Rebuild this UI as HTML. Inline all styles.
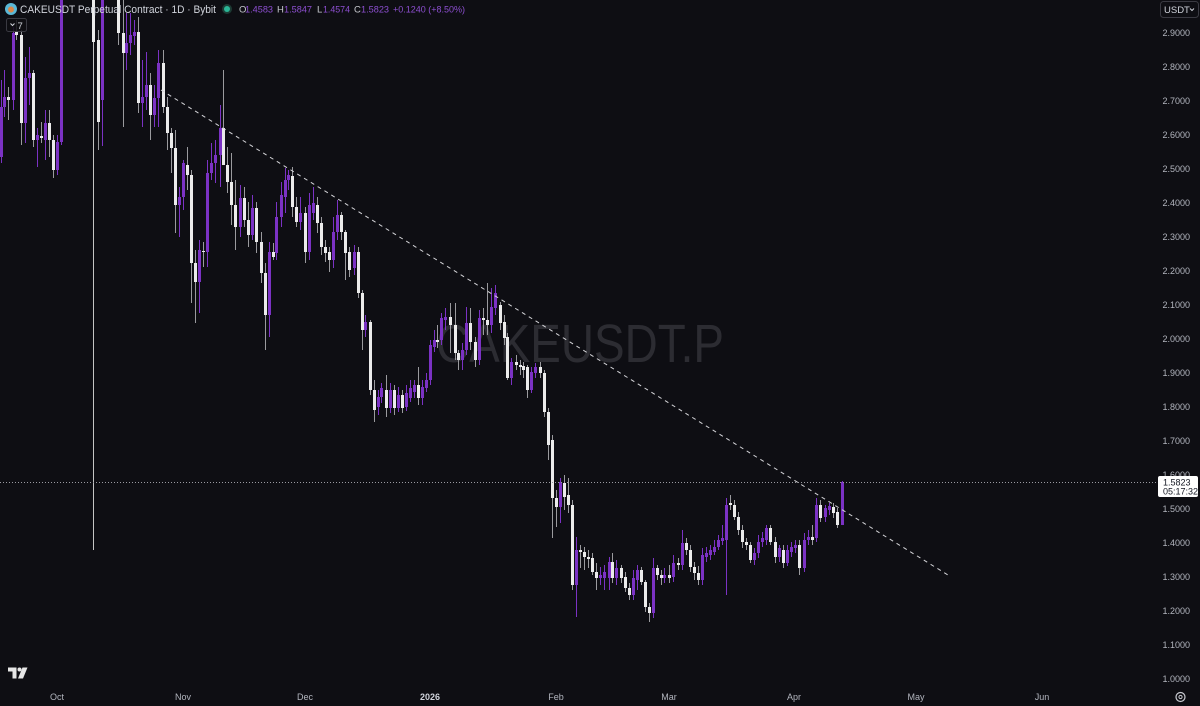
<!DOCTYPE html>
<html>
<head>
<meta charset="utf-8">
<style>
html,body{margin:0;padding:0;background:#0e0e13;width:1200px;height:706px;overflow:hidden;}
svg{display:block;}
text{font-family:"Liberation Sans",sans-serif;}
</style>
</head>
<body>
<svg width="1200" height="706" viewBox="0 0 1200 706" xmlns="http://www.w3.org/2000/svg">
<rect width="1200" height="706" fill="#0e0e13"/>

<!-- watermark -->
<text x="436" y="362" font-size="54" fill="#2c2c32" textLength="288" lengthAdjust="spacingAndGlyphs">CAKEUSDT.P</text>

<!-- Oct 10 long wick -->
<path d="M93.5 -5V550" stroke="#c4c4c4" stroke-width="1"/>

<!-- purple wicks -->
<path stroke="#7b32c4" stroke-width="1" fill="none" d="M1.5 80V163 M4.5 70V117 M13.5 27V110 M25.5 57V143 M29.5 47V105 M37.5 128V167 M45.5 110V160 M57.5 135V175 M61.5 -5V145 M102.5 -5V146 M126.5 13V70 M130.5 13V55 M134.5 20V45 M142.5 60V127 M146.5 52V110 M154.5 85V127 M158.5 50V127 M179.5 187V237 M183.5 160V210 M199.5 240V313 M207.5 160V267 M211.5 143V180 M215.5 140V183 M220.5 105V187 M240.5 185V237 M252.5 195V240 M269.5 242V337 M276.5 202V260 M281.5 182V227 M285.5 168V213 M288.5 170V190 M300.5 197V230 M309.5 193V260 M313.5 187V220 M333.5 217V268 M337.5 200V240 M354.5 245V275 M365.5 315V337 M378.5 390V415 M381.5 383V403 M390.5 383V413 M398.5 387V412 M406.5 385V411 M410.5 380V402 M414.5 380V398 M422.5 380V405 M426.5 373V392 M430.5 340V385 M434.5 330V352 M441.5 313V345 M445.5 308V330 M462.5 343V370 M466.5 307V355 M479.5 310V365 M491.5 288V333 M495.5 285V315 M511.5 358V385 M531.5 367V393 M535.5 363V378 M560.5 478V523 M576.5 537V617 M600.5 567V585 M604.5 565V590 M609.5 557V590 M616.5 560V585 M633.5 570V600 M637.5 565V590 M653.5 558V618 M664.5 568V583 M673.5 555V582 M682.5 530V570 M702.5 548V585 M706.5 547V562 M710.5 545V560 M714.5 540V555 M718.5 535V550 M722.5 525V545 M726.5 498V595 M754.5 548V565 M758.5 535V558 M762.5 532V547 M766.5 525V545 M779.5 545V562 M787.5 545V566 M791.5 542V557 M795.5 540V553 M804.5 533V572 M808.5 530V545 M816.5 498V542 M825.5 505V522 M829.5 503V515 M842.5 481V525"/>

<!-- white wicks -->
<path stroke="#9a9a9e" stroke-width="1" fill="none" d="M8.5 87V120 M16.5 20V40 M21.5 30V145 M33.5 70V147 M41.5 122V143 M49.5 110V157 M53.5 135V178 M98.5 30V150 M118.5 -5V45 M123.5 0V127 M138.5 17V113 M150.5 73V140 M163.5 50V113 M167.5 97V150 M171.5 128V173 M175.5 130V233 M187.5 147V190 M191.5 170V303 M195.5 250V323 M203.5 242V267 M223.5 70V165 M227.5 147V193 M231.5 153V225 M235.5 180V250 M244.5 187V227 M248.5 202V247 M256.5 202V253 M261.5 232V283 M265.5 263V350 M273.5 243V260 M292.5 167V217 M296.5 197V227 M305.5 207V263 M317.5 197V233 M321.5 217V255 M325.5 240V262 M329.5 247V272 M341.5 212V240 M345.5 230V280 M349.5 247V277 M358.5 247V298 M362.5 290V350 M370.5 320V395 M374.5 380V422 M386.5 375V417 M394.5 385V415 M402.5 390V413 M418.5 367V405 M437.5 325V348 M450.5 303V353 M455.5 303V360 M458.5 350V370 M470.5 308V350 M475.5 337V367 M483.5 308V335 M487.5 283V335 M500.5 302V330 M504.5 315V345 M507.5 333V380 M516.5 355V370 M520.5 360V375 M523.5 362V378 M527.5 365V398 M540.5 362V378 M544.5 370V417 M548.5 408V460 M552.5 435V538 M556.5 490V527 M564.5 475V510 M568.5 478V513 M572.5 500V590 M580.5 545V568 M584.5 547V570 M588.5 550V568 M592.5 553V575 M596.5 563V590 M612.5 553V583 M621.5 565V583 M625.5 572V592 M629.5 583V600 M641.5 567V585 M645.5 580V612 M649.5 603V622 M657.5 565V580 M661.5 570V585 M669.5 565V583 M678.5 558V570 M686.5 538V555 M690.5 545V572 M694.5 562V580 M698.5 566V585 M730.5 495V510 M734.5 500V520 M738.5 512V535 M742.5 525V548 M746.5 538V550 M750.5 542V563 M770.5 525V545 M775.5 537V563 M783.5 545V568 M799.5 540V575 M812.5 525V545 M820.5 500V522 M833.5 503V518 M837.5 508V528"/>

<!-- purple bodies -->
<path fill="#7b32c4" d="M0 107h3V157h-3z M3 97h3V107h-3z M12 33h3V100h-3z M24 78h3V123h-3z M28 73h3V78h-3z M36 135h3V140h-3z M44 123h3V140h-3z M56 142h3V170h-3z M60 -5h3V142h-3z M101 -5h3V100h-3z M125 43h3V53h-3z M129 35h3V43h-3z M133 32h3V36h-3z M141 97h3V103h-3z M145 85h3V97h-3z M153 98h3V115h-3z M157 63h3V98h-3z M178 197h3V205h-3z M182 163h3V197h-3z M198 250h3V282h-3z M206 173h3V252h-3z M210 163h3V173h-3z M214 155h3V163h-3z M219 128h3V155h-3z M239 198h3V227h-3z M251 208h3V235h-3z M268 252h3V315h-3z M275 217h3V253h-3z M280 195h3V217h-3z M284 180h3V197h-3z M287 175h3V180h-3z M299 213h3V222h-3z M308 205h3V252h-3z M312 203h3V213h-3z M332 232h3V260h-3z M336 215h3V232h-3z M353 252h3V268h-3z M364 322h3V330h-3z M377 397h3V407h-3z M380 388h3V397h-3z M389 390h3V408h-3z M397 395h3V408h-3z M405 393h3V407h-3z M409 388h3V398h-3z M413 385h3V392h-3z M421 387h3V398h-3z M425 380h3V388h-3z M429 345h3V380h-3z M433 340h3V347h-3z M440 318h3V340h-3z M444 317h3V320h-3z M461 350h3V360h-3z M465 323h3V350h-3z M478 318h3V360h-3z M490 307h3V325h-3z M494 293h3V308h-3z M510 362h3V378h-3z M530 372h3V390h-3z M534 367h3V373h-3z M559 482h3V507h-3z M575 550h3V585h-3z M599 575h3V578h-3z M603 572h3V578h-3z M608 562h3V578h-3z M615 568h3V578h-3z M632 578h3V595h-3z M636 570h3V580h-3z M652 568h3V613h-3z M663 575h3V578h-3z M672 563h3V577h-3z M681 543h3V565h-3z M701 555h3V580h-3z M705 553h3V557h-3z M709 550h3V555h-3z M713 547h3V552h-3z M717 540h3V547h-3z M721 538h3V541h-3z M725 505h3V540h-3z M753 553h3V560h-3z M757 542h3V553h-3z M761 538h3V542h-3z M765 528h3V540h-3z M778 548h3V557h-3z M786 550h3V563h-3z M790 547h3V552h-3z M794 545h3V548h-3z M803 540h3V568h-3z M807 537h3V540h-3z M815 505h3V538h-3z M824 508h3V517h-3z M828 506h3V510h-3z M841 482h3V525h-3z"/>

<!-- white bodies -->
<path fill="#ebebeb" d="M7 97h3V100h-3z M15 32h3V35h-3z M20 35h3V123h-3z M32 73h3V140h-3z M40 136h3V138h-3z M48 123h3V140h-3z M52 140h3V170h-3z M92 -5h3V42h-3z M97 40h3V122h-3z M117 -5h3V33h-3z M122 33h3V53h-3z M137 32h3V103h-3z M149 85h3V115h-3z M162 63h3V107h-3z M166 107h3V133h-3z M170 133h3V148h-3z M174 148h3V205h-3z M186 165h3V175h-3z M190 175h3V263h-3z M194 263h3V282h-3z M202 251h3V252h-3z M222 128h3V165h-3z M226 165h3V182h-3z M230 182h3V205h-3z M234 205h3V227h-3z M243 198h3V220h-3z M247 220h3V235h-3z M255 208h3V242h-3z M260 242h3V273h-3z M264 273h3V315h-3z M272 252h3V257h-3z M291 176h3V207h-3z M295 207h3V222h-3z M304 213h3V252h-3z M316 205h3V223h-3z M320 223h3V247h-3z M324 247h3V253h-3z M328 252h3V260h-3z M340 215h3V232h-3z M344 232h3V253h-3z M348 252h3V270h-3z M357 252h3V293h-3z M361 293h3V330h-3z M369 322h3V390h-3z M373 390h3V410h-3z M385 390h3V408h-3z M393 390h3V408h-3z M401 395h3V408h-3z M417 385h3V398h-3z M436 340h3V342h-3z M449 317h3V325h-3z M454 325h3V353h-3z M457 353h3V360h-3z M469 323h3V342h-3z M474 342h3V360h-3z M482 318h3V320h-3z M486 320h3V325h-3z M499 305h3V323h-3z M503 322h3V338h-3z M506 337h3V378h-3z M515 362h3V365h-3z M519 365h3V367h-3z M522 366h3V370h-3z M526 367h3V390h-3z M539 367h3V373h-3z M543 373h3V412h-3z M547 412h3V445h-3z M551 440h3V498h-3z M555 498h3V507h-3z M563 483h3V497h-3z M567 495h3V505h-3z M571 505h3V585h-3z M579 550h3V552h-3z M583 552h3V557h-3z M587 557h3V559h-3z M591 558h3V572h-3z M595 572h3V578h-3z M611 562h3V578h-3z M620 568h3V578h-3z M624 577h3V588h-3z M628 588h3V595h-3z M640 570h3V582h-3z M644 582h3V607h-3z M648 607h3V613h-3z M656 568h3V575h-3z M660 575h3V578h-3z M668 575h3V578h-3z M677 563h3V565h-3z M685 543h3V550h-3z M689 550h3V567h-3z M693 567h3V573h-3z M697 573h3V580h-3z M729 503h3V505h-3z M733 505h3V517h-3z M737 517h3V530h-3z M741 530h3V542h-3z M745 542h3V545h-3z M749 545h3V560h-3z M769 528h3V542h-3z M774 542h3V557h-3z M782 550h3V563h-3z M798 545h3V568h-3z M811 537h3V540h-3z M819 505h3V518h-3z M832 507h3V513h-3z M836 512h3V525h-3z"/>

<!-- trendline -->
<line x1="161" y1="90" x2="948" y2="575" stroke="#d4d4d8" stroke-width="1" stroke-dasharray="4 4"/>

<!-- current price dotted line -->
<line x1="0" y1="482.5" x2="1158" y2="482.5" stroke="#9b9ba2" stroke-width="1" stroke-dasharray="1 2"/>

<!-- price axis -->
<g font-size="9" fill="#b2b5be" text-anchor="end">
<text x="1190" y="36">2.9000</text>
<text x="1190" y="70">2.8000</text>
<text x="1190" y="104">2.7000</text>
<text x="1190" y="138">2.6000</text>
<text x="1190" y="172">2.5000</text>
<text x="1190" y="206">2.4000</text>
<text x="1190" y="240">2.3000</text>
<text x="1190" y="274">2.2000</text>
<text x="1190" y="308">2.1000</text>
<text x="1190" y="342">2.0000</text>
<text x="1190" y="376">1.9000</text>
<text x="1190" y="410">1.8000</text>
<text x="1190" y="444">1.7000</text>
<text x="1190" y="478">1.6000</text>
<text x="1190" y="512">1.5000</text>
<text x="1190" y="546">1.4000</text>
<text x="1190" y="580">1.3000</text>
<text x="1190" y="614">1.2000</text>
<text x="1190" y="648">1.1000</text>
<text x="1190" y="682">1.0000</text>
</g>

<!-- price box -->
<rect x="1158" y="476" width="40" height="21" rx="2" fill="#ffffff"/>
<text x="1163" y="485.5" font-size="9" fill="#131722">1.5823</text>
<text x="1163" y="494.5" font-size="9" fill="#131722">05:17:32</text>

<!-- USDT button -->
<rect x="1160.5" y="1.5" width="38" height="16" rx="3" fill="none" stroke="#3a3a42"/>
<text x="1164" y="13" font-size="9.5" fill="#d1d4dc">USDT</text>
<path d="M1190 8.5l2 2l2-2" stroke="#d1d4dc" stroke-width="1" fill="none"/>

<!-- time axis -->
<g font-size="9" fill="#b2b5be" text-anchor="middle">
<text x="57" y="700">Oct</text>
<text x="183" y="700">Nov</text>
<text x="305" y="700">Dec</text>
<text x="430" y="700" font-weight="bold" fill="#d1d4dc">2026</text>
<text x="556" y="700">Feb</text>
<text x="669" y="700">Mar</text>
<text x="794" y="700">Apr</text>
<text x="916" y="700">May</text>
<text x="1042" y="700">Jun</text>
</g>

<!-- gear icon -->
<circle cx="1180.5" cy="697" r="4.5" fill="none" stroke="#c8cad0" stroke-width="1.2"/>
<circle cx="1180.5" cy="697" r="1.6" fill="none" stroke="#c8cad0" stroke-width="1"/>

<!-- TV logo -->
<g fill="#e6e6e6">
<path d="M8 667.5h8.5v11h-4v-7h-4.5z"/>
<circle cx="19.5" cy="669.5" r="2"/>
<path d="M22.5 667.5h5l-4.5 11h-5z"/>
</g>

<!-- header -->
<circle cx="11" cy="9" r="6" fill="#5bb8d6"/>
<circle cx="11" cy="9.5" r="3" fill="#d9874a"/>
<text x="20" y="13" font-size="11" fill="#d1d4dc" textLength="196" lengthAdjust="spacingAndGlyphs">CAKEUSDT Perpetual Contract · 1D · Bybit</text>
<circle cx="227" cy="9" r="5" fill="#1d3b34"/>
<circle cx="227" cy="9" r="3" fill="#2bb596"/>
<g font-size="9.5">
<text x="239" y="12.5" fill="#c8cad0">O</text>
<text x="245" y="12.5" fill="#8d4fd1" textLength="28" lengthAdjust="spacingAndGlyphs">1.4583</text>
<text x="277" y="12.5" fill="#c8cad0">H</text>
<text x="284" y="12.5" fill="#8d4fd1" textLength="28" lengthAdjust="spacingAndGlyphs">1.5847</text>
<text x="317" y="12.5" fill="#c8cad0">L</text>
<text x="323" y="12.5" fill="#8d4fd1" textLength="27" lengthAdjust="spacingAndGlyphs">1.4574</text>
<text x="354" y="12.5" fill="#c8cad0">C</text>
<text x="361" y="12.5" fill="#8d4fd1" textLength="28" lengthAdjust="spacingAndGlyphs">1.5823</text>
<text x="393" y="12.5" fill="#8d4fd1" textLength="72" lengthAdjust="spacingAndGlyphs">+0.1240 (+8.50%)</text>
</g>

<!-- collapse badge -->
<rect x="6.5" y="18.5" width="20" height="13" rx="2" fill="#0e0e13" fill-opacity="0.85" stroke="#3a3a42"/>
<path d="M10.5 23.5l2 2l2-2" stroke="#d1d4dc" stroke-width="1" fill="none"/>
<text x="17.5" y="29" font-size="9.5" fill="#d1d4dc">7</text>
</svg>
</body>
</html>
